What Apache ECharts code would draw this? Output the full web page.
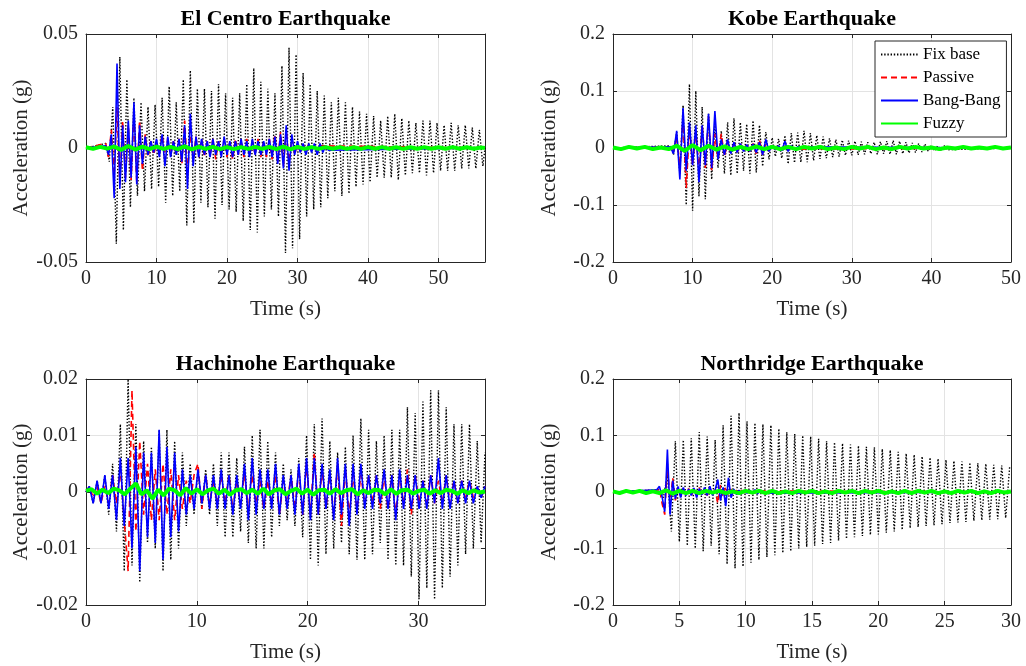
<!DOCTYPE html>
<html><head><meta charset="utf-8">
<script src="https://cdn.jsdelivr.net/npm/echarts@6/dist/echarts.min.js"></script>
<style>html,body{margin:0;padding:0;background:#fff}#c{width:1026px;height:666px}</style>
</head><body><div id="c"></div>
<script>
// ---------- data ----------
const titles = ['El Centro Earthquake', 'Kobe Earthquake', 'Hachinohe Earthquake', 'Northridge Earthquake'];
const seriesNames = ['Fix base', 'Passive', 'Bang-Bang', 'Fuzzy'];
const xMax = [56.6, 50, 36, 30];
const xStep = [10, 10, 10, 5];
const yMax = [0.05, 0.2, 0.02, 0.2];
const yStep = [0.05, 0.1, 0.01, 0.1];

// El Centro
const elcFixT0 = 2.8, elcFixDt = 0.5;
const elcFix = [0.002,-0.006,0.018,-0.042,0.040,-0.036,0.030,-0.026,0.022,-0.021,
0.020,-0.019,0.018,-0.018,0.019,-0.017,0.022,-0.024,0.027,-0.021,
0.020,-0.019,0.030,-0.034,0.034,-0.033,0.026,-0.024,0.026,-0.026,
0.025,-0.031,0.028,-0.025,0.024,-0.027,0.022,-0.028,0.024,-0.032,
0.028,-0.036,0.035,-0.037,0.029,-0.030,0.026,-0.027,0.024,-0.030,
0.036,-0.046,0.044,-0.044,0.041,-0.040,0.033,-0.030,0.028,-0.027,
0.025,-0.026,0.023,-0.022,0.020,-0.019,0.022,-0.021,0.020,-0.020,
0.018,-0.017,0.016,-0.016,0.015,-0.015,0.014,-0.013,0.012,-0.013,
0.014,-0.013,0.015,-0.014,0.013,-0.012,0.012,-0.011,0.011,-0.011,
0.012,-0.012,0.012,-0.011,0.011,-0.010,0.010,-0.010,0.011,-0.010,
0.010,-0.009,0.010,-0.009,0.009,-0.009,0.008,-0.008];
const elcCtrlT0 = 2.8, elcCtrlDt = 0.4;
const elcPas = [0.002,-0.004,0.008,-0.012,0.018,-0.016,0.012,-0.013,0.010,-0.014,
0.015,-0.015,0.012,-0.010,0.006,-0.004,0.003,-0.003,0.002,-0.002,
0.006,-0.005,0.004,-0.003,0.003,-0.003,0.004,-0.007,0.012,-0.012,
0.008,-0.006,0.005,-0.004,0.004,-0.004,0.003,-0.003,0.004,-0.005,
0.003,-0.003,0.004,-0.004,0.003,-0.005,0.004,-0.003,0.003,-0.004,
0.004,-0.003,0.003,-0.003,0.004,-0.004,0.003,-0.004,0.004,-0.005,
0.006,-0.006,0.007,-0.008,0.008,-0.006,0.004,-0.003,0.002,-0.002,
0.002,-0.002,0.002,-0.001,0.001,-0.001,0.001];
const elcBang = [0.001,-0.003,0.006,-0.022,0.037,-0.018,0.010,-0.015,0.012,-0.013,
0.020,-0.016,0.010,-0.007,0.005,-0.003,0.003,-0.002,0.004,-0.004,
0.006,-0.008,0.005,-0.004,0.003,-0.003,0.004,-0.006,0.010,-0.018,
0.015,-0.008,0.005,-0.004,0.004,-0.003,0.003,-0.004,0.004,-0.003,
0.003,-0.004,0.005,-0.003,0.003,-0.004,0.003,-0.003,0.004,-0.003,
0.003,-0.004,0.004,-0.003,0.003,-0.003,0.003,-0.003,0.004,-0.004,
0.005,-0.007,0.006,-0.009,0.010,-0.010,0.006,-0.003,0.003,-0.002,
0.002,-0.003,0.002,-0.002,0.002,-0.003,0.002,-0.002,0.001,-0.001];
const elcFuzT0 = 0, elcFuzDt = 1;
const elcFuz = [0.0003,-0.0004,0.0005,-0.0003,0.0006,-0.0008,0.0009,-0.0007,0.0006,-0.0005,
0.0006,-0.0004,0.0005,-0.0005,0.0007,-0.0006,0.0005,-0.0004,0.0005,-0.0005,
0.0004,-0.0005,0.0004,-0.0004,0.0005,-0.0004,0.0005,-0.0005,0.0006,-0.0006,
0.0005,-0.0004,0.0004,-0.0004,0.0004,-0.0003,0.0004,-0.0004,0.0003,-0.0004,
0.0004,-0.0003,0.0004,-0.0003,0.0003,-0.0004,0.0003,-0.0003,0.0004,-0.0003,
0.0003,-0.0003,0.0004,-0.0003,0.0003,-0.0003,0.0002];

// Kobe
const kobeT0 = 7.2, kobeDt = 0.4;
const kobeFix = [0.004,-0.012,0.028,-0.045,0.075,-0.100,0.112,-0.110,0.100,-0.085,
0.072,-0.090,0.060,-0.055,0.040,-0.035,0.030,-0.045,0.045,-0.048,
0.052,-0.045,0.045,-0.040,0.042,-0.045,0.048,-0.043,0.040,-0.032,
0.028,-0.020,0.018,-0.015,0.016,-0.018,0.022,-0.028,0.026,-0.026,
0.027,-0.025,0.030,-0.025,0.026,-0.022,0.022,-0.019,0.020,-0.018,
0.017,-0.016,0.015,-0.015,0.014,-0.013,0.013,-0.013,0.012,-0.012,
0.011,-0.011,0.010,-0.010,0.010,-0.011,0.011,-0.010,0.012,-0.011,
0.013,-0.011,0.012,-0.010,0.010,-0.009,0.009,-0.008,0.008,-0.007,
0.007,-0.006,0.005,-0.005,0.004,-0.004,0.004,-0.003];
const kobePas = [0.002,-0.006,0.020,-0.030,0.050,-0.070,0.035,-0.030,0.030,-0.040,
0.040,-0.035,0.055,-0.040,0.025,-0.020,0.025,-0.015,0.012,-0.010,
0.010,-0.008,0.008,-0.007,0.007,-0.006,0.008,-0.010,0.015,-0.012,
0.008,-0.005,0.004,-0.003,0.003,-0.003,0.004,-0.003,0.002,-0.002];
const kobeBang = [0.002,-0.010,0.030,-0.055,0.070,-0.040,0.045,-0.030,0.040,-0.060,
0.040,-0.030,0.060,-0.035,0.065,-0.020,0.015,-0.012,0.015,-0.010,
0.010,-0.008,0.008,-0.006,0.006,-0.006,0.007,-0.008,0.010,-0.012,
0.015,-0.006,0.004,-0.003,0.004,-0.005,0.012,-0.006,0.004,-0.003,0.002];
const kobeFuzT0 = 0, kobeFuzDt = 1;
const kobeFuz = [0.001,-0.002,0.002,-0.001,0.002,-0.002,0.001,-0.002,0.004,-0.005,
0.005,-0.004,0.004,-0.003,0.003,-0.003,0.002,-0.002,0.003,-0.002,
0.002,-0.002,0.002,-0.002,0.002,-0.001,0.002,-0.002,0.001,-0.002,
0.002,-0.001,0.002,-0.002,0.001,-0.002,0.002,-0.001,0.002,-0.001,
0.001,-0.002,0.001,-0.001,0.002,-0.001,0.001,-0.001,0.002,-0.001,0.001];

// Hachinohe
const hachT0 = 0.3, hachDt = 0.35;
const hachFix = [0.001,-0.002,0.002,-0.002,0.003,-0.004,0.005,-0.007,0.012,-0.014,
0.020,-0.013,0.012,-0.016,0.009,-0.009,0.008,-0.010,0.011,-0.014,
0.011,-0.012,0.009,-0.010,0.007,-0.006,0.005,-0.004,0.004,-0.003,
0.004,-0.004,0.005,-0.006,0.007,-0.008,0.007,-0.008,0.006,-0.007,
0.008,-0.009,0.010,-0.010,0.011,-0.010,0.009,-0.008,0.007,-0.006,
0.005,-0.005,0.004,-0.006,0.006,-0.008,0.010,-0.012,0.012,-0.013,
0.013,-0.011,0.009,-0.010,0.007,-0.009,0.008,-0.011,0.010,-0.012,
0.013,-0.012,0.011,-0.011,0.009,-0.009,0.010,-0.012,0.011,-0.013,
0.011,-0.013,0.015,-0.015,0.014,-0.019,0.016,-0.017,0.018,-0.019,
0.018,-0.017,0.015,-0.015,0.012,-0.013,0.012,-0.011,0.012,-0.010,
0.009,-0.009,0.007];
const hachPas = [0.001,-0.001,0.001,-0.002,0.001,-0.002,0.003,-0.002,0.004,-0.005,
-0.014,0.018,-0.007,0.009,-0.004,0.005,-0.005,0.004,-0.005,0.005,
-0.004,0.004,-0.005,0.003,-0.003,0.002,-0.002,0.003,0.005,-0.003,
0.003,-0.002,0.002,-0.002,0.003,-0.002,0.003,-0.003,0.002,-0.002,
0.003,-0.003,0.003,-0.002,0.002,-0.003,0.002,-0.002,0.003,-0.004,
0.002,-0.002,0.003,-0.003,0.004,-0.004,0.005,-0.004,0.007,-0.004,
0.004,-0.003,0.003,-0.004,0.005,-0.006,0.004,-0.004,0.003,-0.003,
0.003,-0.002,0.003,-0.002,0.003,-0.003,0.003,-0.003,0.003,-0.004,
0.003,-0.002,0.004,-0.004,0.003,-0.002,0.002,-0.002,0.003,-0.002,
0.002,-0.002,0.003,-0.002,0.002,-0.002,0.002,-0.001,0.002,-0.001,
0.001,-0.001,0.001];
const hachBang = [0.001,-0.002,0.002,-0.002,0.003,-0.003,0.003,-0.005,0.006,-0.006,
0.006,-0.010,0.008,-0.014,0.007,-0.008,0.007,-0.009,0.011,-0.012,
0.008,-0.008,0.007,-0.007,0.004,-0.004,0.003,-0.003,0.004,-0.002,
0.003,-0.003,0.003,-0.003,0.004,-0.003,0.003,-0.004,0.003,-0.003,
0.005,-0.005,0.006,-0.004,0.004,-0.003,0.004,-0.003,0.005,-0.004,
0.003,-0.003,0.003,-0.004,0.005,-0.004,0.006,-0.005,0.006,-0.004,
0.005,-0.003,0.004,-0.005,0.006,-0.004,0.005,-0.006,0.005,-0.004,
0.005,-0.003,0.003,-0.003,0.003,-0.002,0.004,-0.003,0.003,-0.005,
0.004,-0.003,0.003,-0.003,0.003,-0.003,0.002,-0.003,0.003,-0.002,
0.006,-0.003,0.003,-0.003,0.002,-0.002,0.002,-0.002,0.002,-0.002,
0.001,-0.001,0.001];
const hachFuzT0 = 0, hachFuzDt = 0.5;
const hachFuz = [0.0002,0.0005,-0.0003,0.0004,-0.0002,0.0006,0.0003,-0.0004,0.0006,0.0015,
-0.0004,0.0003,-0.0012,0.0004,-0.0006,0.0006,0.0003,-0.0006,0.0007,-0.0003,
0.0005,-0.0004,0.0003,0.0006,-0.0003,0.0004,-0.0005,0.0003,0.0005,-0.0002,
0.0004,-0.0003,0.0006,-0.0004,0.0003,0.0005,-0.0004,0.0002,0.0006,-0.0003,
0.0004,-0.0005,0.0003,0.0004,-0.0003,0.0005,-0.0002,0.0003,0.0005,-0.0004,
0.0003,-0.0002,0.0004,0.0003,-0.0004,0.0005,-0.0003,0.0003,0.0004,-0.0003,
0.0002,0.0004,-0.0003,0.0003,-0.0002,0.0004,0.0002,-0.0003,0.0003,-0.0002,
0.0003,-0.0001,0.0001];

// Northridge
const nrFixT0 = 3.5, nrFixDt = 0.3;
const nrFix = [0.004,-0.010,0.030,-0.070,0.090,-0.088,0.092,-0.095,0.095,-0.100,
0.106,-0.105,0.098,-0.095,0.092,-0.110,0.118,-0.128,0.135,-0.135,
0.140,-0.132,0.125,-0.125,0.122,-0.120,0.120,-0.115,0.118,-0.112,
0.112,-0.108,0.106,-0.105,0.103,-0.100,0.100,-0.097,0.098,-0.095,
0.094,-0.092,0.090,-0.090,0.088,-0.086,0.086,-0.083,0.084,-0.080,
0.082,-0.078,0.080,-0.076,0.079,-0.075,0.076,-0.072,0.074,-0.070,
0.071,-0.067,0.068,-0.064,0.066,-0.062,0.063,-0.060,0.061,-0.059,
0.059,-0.057,0.057,-0.055,0.055,-0.054,0.054,-0.053,0.052,-0.051,
0.051,-0.050,0.050,-0.049,0.048,-0.048,0.047,-0.046,0.045];
const nrCtrlT0 = 3.3, nrCtrlDt = 0.2;
const nrPas = [0.003,0.006,-0.020,-0.040,0.050,-0.020,0.025,-0.015,0.010,-0.008,
0.008,-0.005,0.006,-0.007,0.005,-0.005,0.008,-0.006,0.005,-0.006,
0.007,-0.005,0.004,-0.020,0.012,-0.008,0.010,-0.006,0.005,-0.004,
0.003,-0.003,0.003,-0.003,0.002,-0.002,0.003,-0.002,0.002,-0.003,0.002];
const nrBang = [0.004,0.010,-0.008,-0.035,0.075,-0.040,0.020,-0.012,0.010,-0.010,
0.008,-0.006,0.005,-0.006,0.007,-0.010,0.006,-0.005,0.008,-0.006,
0.010,-0.006,0.004,0.022,-0.015,0.008,-0.025,0.025,-0.010,0.005,
-0.004,0.003,-0.003,0.003,-0.002,0.003,-0.002,0.004,-0.003,0.003,-0.002];
const nrFuzT0 = 0, nrFuzDt = 0.5;
const nrFuz = [0.001,-0.002,0.002,-0.001,0.002,-0.002,0.001,-0.002,0.003,-0.003,
0.002,-0.002,0.002,-0.002,0.002,-0.001,0.002,-0.002,0.001,-0.002,
0.002,-0.001,0.002,-0.002,0.002,-0.002,0.001,-0.002,0.002,-0.001,
0.002,-0.002,0.001,-0.002,0.002,-0.001,0.002,-0.002,0.002,-0.001,
0.002,-0.002,0.001,-0.002,0.002,-0.002,0.002,-0.001,0.002,-0.002,
0.001,-0.002,0.002,-0.001,0.002,-0.002,0.001,-0.002,0.002,-0.001,0.001];

// ---------- build ----------
function pts(t0, dt, vals, tStart, tEnd) {
  const out = [];
  if (tStart != null) out.push([tStart, 0]);
  vals.forEach((v, i) => out.push([+(t0 + i * dt).toFixed(3), v]));
  if (tEnd != null) out.push([tEnd, 0]);
  return out;
}
const panels = [
  [pts(elcFixT0, elcFixDt, elcFix, 0, xMax[0]), pts(elcCtrlT0, elcCtrlDt, elcPas, 0, xMax[0]), pts(elcCtrlT0, elcCtrlDt, elcBang, 0, xMax[0]), pts(elcFuzT0, elcFuzDt, elcFuz, null, xMax[0])],
  [pts(kobeT0, kobeDt, kobeFix, 0, xMax[1]), pts(kobeT0, kobeDt, kobePas, 0, xMax[1]), pts(kobeT0, kobeDt, kobeBang, 0, xMax[1]), pts(kobeFuzT0, kobeFuzDt, kobeFuz)],
  [pts(hachT0, hachDt, hachFix, 0), pts(hachT0, hachDt, hachPas, 0), pts(hachT0, hachDt, hachBang, 0), pts(hachFuzT0, hachFuzDt, hachFuz)],
  [pts(nrFixT0, nrFixDt, nrFix, 0), pts(nrCtrlT0, nrCtrlDt, nrPas, 0, xMax[3]), pts(nrCtrlT0, nrCtrlDt, nrBang, 0, xMax[3]), pts(nrFuzT0, nrFuzDt, nrFuz)]
];

const FONT = 'Liberation Serif, Times New Roman, serif';
const AX = '#262626';
const GRIDC = '#e3e3e3';
const boxes = [
  {left: 86, top: 34, width: 399, height: 228},
  {left: 613, top: 34, width: 398, height: 228},
  {left: 86, top: 379, width: 399, height: 226},
  {left: 613, top: 379, width: 398, height: 226}
];
const styles = [
  {color: '#000000', lineStyle: {width: 1.4, type: [1.4, 1.8]}},
  {color: '#ff0000', lineStyle: {width: 1.6, type: [6, 4]}},
  {color: '#0000ff', lineStyle: {width: 1.6, type: 'solid'}},
  {color: '#00ff00', lineStyle: {width: 4, type: 'solid'}}
];
const fmt = v => String(Math.round(v * 1000) / 1000);

const grid = [], xAxis = [], yAxis = [], series = [], graphic = [];
boxes.forEach((b, i) => {
  grid.push(Object.assign({containLabel: false}, b));
  const common = {gridIndex: i, axisLine: {show: true, onZero: false, lineStyle: {color: AX, width: 1}},
    axisTick: {show: true, inside: true, length: 4, lineStyle: {color: AX}}};
  xAxis.push(Object.assign({}, common, {type: 'value', position: 'bottom', min: 0, max: xMax[i], interval: xStep[i],
    axisLabel: {color: AX, fontFamily: FONT, fontSize: 20, margin: 7, showMaxLabel: xMax[i] % xStep[i] === 0},
    splitLine: {show: true, lineStyle: {color: GRIDC, width: 1}},
    name: 'Time (s)', nameLocation: 'middle', nameGap: 37,
    nameTextStyle: {color: AX, fontFamily: FONT, fontSize: 21}}));
  xAxis.push(Object.assign({}, common, {type: 'value', position: 'top', min: 0, max: xMax[i], interval: xStep[i],
    axisLabel: {show: false}, splitLine: {show: false}}));
  yAxis.push(Object.assign({}, common, {type: 'value', position: 'left', min: -yMax[i], max: yMax[i], interval: yStep[i],
    axisLabel: {color: AX, fontFamily: FONT, fontSize: 20, margin: 8, formatter: fmt},
    splitLine: {show: true, lineStyle: {color: GRIDC, width: 1}},
    name: 'Acceleration (g)', nameLocation: 'middle', nameGap: 53,
    nameTextStyle: {color: AX, fontFamily: FONT, fontSize: 21}}));
  yAxis.push(Object.assign({}, common, {type: 'value', position: 'right', min: -yMax[i], max: yMax[i], interval: yStep[i],
    axisLabel: {show: false}, splitLine: {show: false}}));
  panels[i].forEach((d, k) => {
    series.push({type: 'line', name: seriesNames[k], xAxisIndex: 2 * i, yAxisIndex: 2 * i, data: d,
      symbol: 'none', showSymbol: false, animation: false, silent: true, clip: true,
      color: styles[k].color, itemStyle: {color: styles[k].color}, lineStyle: Object.assign({color: styles[k].color}, styles[k].lineStyle),
      z: 2 + k});
  });
  graphic.push({type: 'text', x: b.left + b.width / 2, y: b.top - 15,
    style: {text: titles[i], fill: '#000', font: 'bold 22px ' + FONT, textAlign: 'center', textVerticalAlign: 'middle'}});
});

const chart = echarts.init(document.getElementById('c'), null, {renderer: 'canvas'});
chart.setOption({
  animation: false,
  backgroundColor: '#ffffff',
  grid, xAxis, yAxis, series, graphic,
  legend: {show: true, data: seriesNames, orient: 'vertical', left: 875, top: 41,
    itemWidth: 37, itemHeight: 14, itemGap: 6, padding: [5, 6, 5, 5],
    itemStyle: {color: 'rgba(0,0,0,0)', borderColor: 'rgba(0,0,0,0)', borderWidth: 0},
    backgroundColor: '#ffffff', borderColor: AX, borderWidth: 1, borderRadius: 0,
    selectedMode: false, z: 20,
    textStyle: {color: '#000', fontFamily: FONT, fontSize: 17}}
});
</script></body></html>
